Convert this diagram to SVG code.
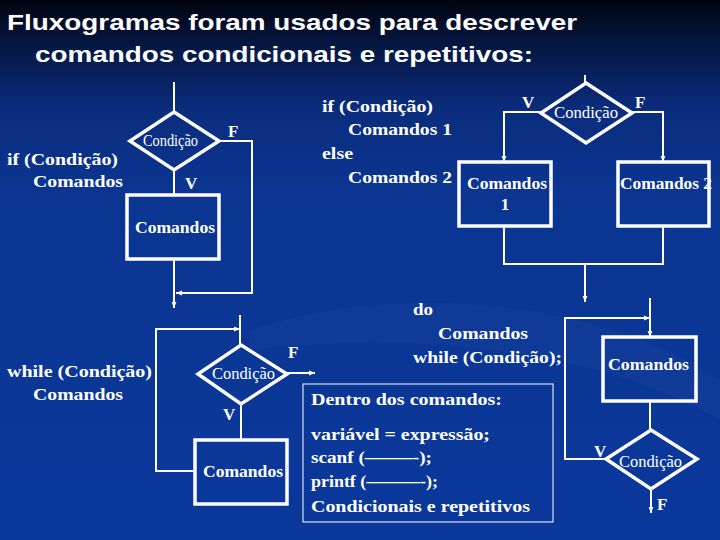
<svg xmlns="http://www.w3.org/2000/svg" width="720" height="540" viewBox="0 0 720 540">
<defs>
<linearGradient id="bg" x1="0" y1="0" x2="0" y2="1">
<stop offset="0" stop-color="#01040f"/>
<stop offset="0.08" stop-color="#051640"/>
<stop offset="0.2" stop-color="#0a2c7c"/>
<stop offset="0.35" stop-color="#0b3591"/>
<stop offset="1" stop-color="#0a389b"/>
</linearGradient>
<marker id="ah" viewBox="0 0 10 10" refX="10" refY="5" markerWidth="6" markerHeight="6" markerUnits="userSpaceOnUse" orient="auto">
<path d="M0,1 L10,5 L0,9 Z" fill="#ffffff"/>
</marker>
<style>
.title{font-family:"Liberation Sans",Arial,sans-serif;font-weight:bold;font-size:22px;fill:#fff}
.t{font-family:"Liberation Serif","Times New Roman",serif;font-weight:bold;font-size:17px;fill:#fff}
.c{font-family:"Liberation Serif","Times New Roman",serif;font-size:16px;fill:#fff}
.shape{fill:none;stroke:#fff;stroke-width:3.5}
.conn{fill:none;stroke:#fff;stroke-width:2}
.arr{marker-end:url(#ah)}
</style>
</defs>
<rect x="0" y="0" width="720" height="540" fill="url(#bg)"/>
<path d="M250,330 C400,280 600,300 720,380 L720,420 C600,350 420,330 250,350 Z" fill="#ffffff" opacity="0.025"/>

<g id="title">
<text class="title" x="7" y="30" textLength="570" lengthAdjust="spacingAndGlyphs">Fluxogramas foram usados para descrever</text>
<text class="title" x="35" y="62" textLength="498" lengthAdjust="spacingAndGlyphs">comandos condicionais e repetitivos:</text>
</g>

<g id="connectors">
<!-- panel 1 if -->
<line class="conn" x1="174" y1="82" x2="174" y2="112"/>
<polyline class="conn arr" points="219,141 252,141 252,293 176,293"/>
<line class="conn" x1="174" y1="170" x2="174" y2="195"/>
<line class="conn arr" x1="174" y1="259" x2="174" y2="308"/>
<!-- panel 2 if-else -->
<line class="conn" x1="585" y1="75" x2="585" y2="83"/>
<polyline class="conn arr" points="541,112 504,112 504,162"/>
<polyline class="conn arr" points="632,112 663,112 663,162"/>
<polyline class="conn" points="504,226 504,264 663,264 663,226"/>
<line class="conn arr" x1="585" y1="264" x2="585" y2="302"/>
<!-- panel 3 while -->
<line class="conn" x1="240" y1="315" x2="240" y2="345"/>
<polyline class="conn arr" points="195,471 156,471 156,329 240,329"/>
<line class="conn arr" x1="287" y1="373" x2="315" y2="373"/>
<line class="conn" x1="241" y1="404" x2="241" y2="440"/>
<!-- panel 4 do-while -->
<line class="conn arr" x1="650" y1="298" x2="650" y2="337"/>
<polyline class="conn arr" points="606,459 565,459 565,318 650,318"/>
<line class="conn" x1="650" y1="401" x2="650" y2="430"/>
<line class="conn arr" x1="651" y1="489" x2="651" y2="513"/>
</g>

<g id="if-code">
<text class="t" x="7" y="165" textLength="111" lengthAdjust="spacingAndGlyphs">if (Condição)</text>
<text class="t" x="33" y="187" textLength="90" lengthAdjust="spacingAndGlyphs">Comandos</text>
</g>
<g id="if-cond">
<polygon class="shape" points="174,112 219,141 174,170 130,141"/>
<text class="c" x="143" y="146" textLength="55" lengthAdjust="spacingAndGlyphs">Condição</text>
<text class="t" x="228" y="137">F</text>
<text class="t" x="185" y="189">V</text>
</g>
<g id="if-cmd">
<rect class="shape" x="127" y="195" width="92" height="64"/>
<text class="t" x="135" y="233" textLength="80" lengthAdjust="spacingAndGlyphs">Comandos</text>
</g>

<g id="ifelse-code">
<text class="t" x="322" y="112" textLength="111" lengthAdjust="spacingAndGlyphs">if (Condição)</text>
<text class="t" x="348" y="135" textLength="104" lengthAdjust="spacingAndGlyphs">Comandos 1</text>
<text class="t" x="322" y="159" textLength="31" lengthAdjust="spacingAndGlyphs">else</text>
<text class="t" x="348" y="183" textLength="104" lengthAdjust="spacingAndGlyphs">Comandos 2</text>
</g>
<g id="ifelse-cond">
<polygon class="shape" points="586,83 632,113 586,143 541,113"/>
<text class="c" x="554" y="118" textLength="64" lengthAdjust="spacingAndGlyphs">Condição</text>
<text class="t" x="522" y="108">V</text>
<text class="t" x="635" y="108">F</text>
</g>
<g id="ifelse-cmd1">
<rect class="shape" x="459" y="162" width="92" height="64"/>
<text class="t" x="467" y="189" textLength="80" lengthAdjust="spacingAndGlyphs">Comandos</text>
<text class="t" x="505" y="210" text-anchor="middle">1</text>
</g>
<g id="ifelse-cmd2">
<rect class="shape" x="618" y="162" width="91" height="64"/>
<text class="t" x="620" y="189" textLength="92" lengthAdjust="spacingAndGlyphs">Comandos 2</text>
</g>

<g id="while-code">
<text class="t" x="7" y="377" textLength="145" lengthAdjust="spacingAndGlyphs">while (Condição)</text>
<text class="t" x="33" y="400" textLength="90" lengthAdjust="spacingAndGlyphs">Comandos</text>
</g>
<g id="while-cond">
<polygon class="shape" points="241,345 287,374 241,404 198,374"/>
<text class="c" x="212" y="379" textLength="63" lengthAdjust="spacingAndGlyphs">Condição</text>
<text class="t" x="288" y="358">F</text>
<text class="t" x="223" y="420">V</text>
</g>
<g id="while-cmd">
<rect class="shape" x="195" y="440" width="92" height="64"/>
<text class="t" x="203" y="477" textLength="80" lengthAdjust="spacingAndGlyphs">Comandos</text>
</g>

<g id="dowhile-code">
<text class="t" x="413" y="315" textLength="20" lengthAdjust="spacingAndGlyphs">do</text>
<text class="t" x="438" y="339" textLength="90" lengthAdjust="spacingAndGlyphs">Comandos</text>
<text class="t" x="413" y="363" textLength="149" lengthAdjust="spacingAndGlyphs">while (Condição);</text>
</g>
<g id="dowhile-cmd">
<rect class="shape" x="603" y="337" width="93" height="64"/>
<text class="t" x="608" y="370" textLength="81" lengthAdjust="spacingAndGlyphs">Comandos</text>
</g>
<g id="dowhile-cond">
<polygon class="shape" points="651,430 697,459 651,489 606,459"/>
<text class="c" x="619" y="467" textLength="63" lengthAdjust="spacingAndGlyphs">Condição</text>
<text class="t" x="594" y="457">V</text>
<text class="t" x="657" y="510">F</text>
</g>

<g id="inside-box">
<rect x="303" y="384" width="250" height="138" fill="none" stroke="#fff" stroke-width="1"/>
<text class="t" x="311" y="405" textLength="191" lengthAdjust="spacingAndGlyphs">Dentro dos comandos:</text>
<text class="t" x="311" y="440" textLength="179" lengthAdjust="spacingAndGlyphs">variável = expressão;</text>
<text class="t" x="311" y="463" textLength="121" lengthAdjust="spacingAndGlyphs">scanf (–––––-);</text>
<text class="t" x="311" y="487" textLength="127" lengthAdjust="spacingAndGlyphs">printf (––––––-);</text>
<text class="t" x="311" y="512" textLength="219" lengthAdjust="spacingAndGlyphs">Condicionais e repetitivos</text>
</g>
</svg>
